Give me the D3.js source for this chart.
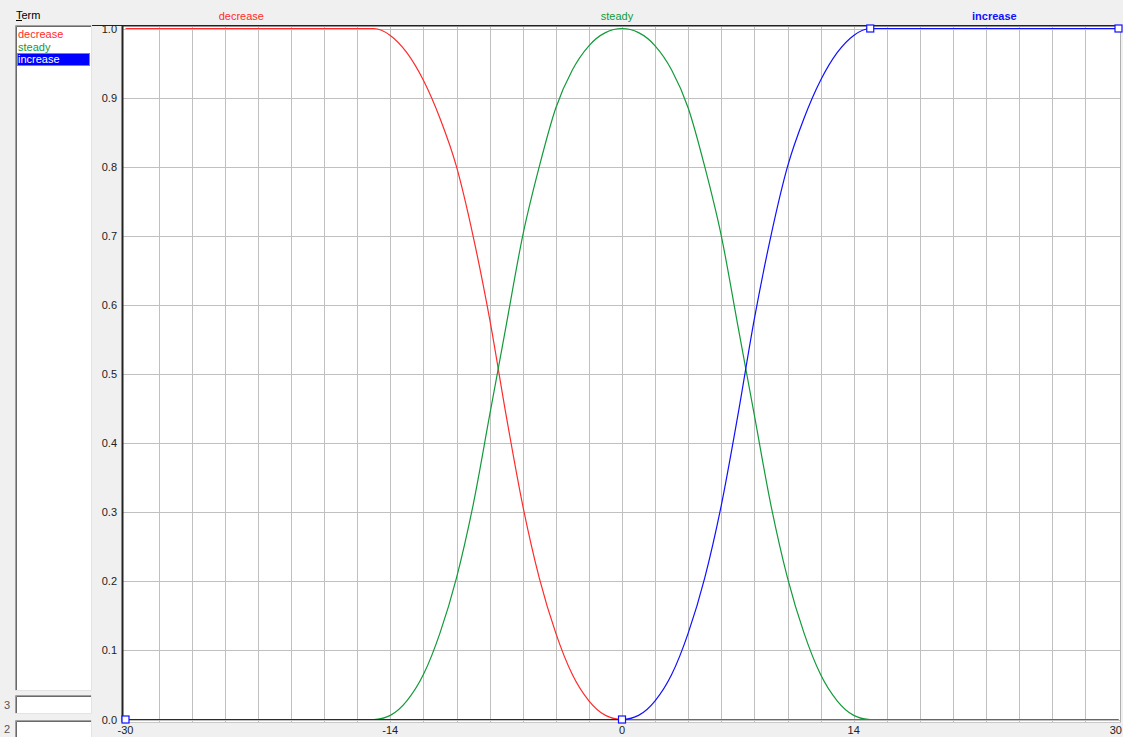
<!DOCTYPE html>
<head>
<meta charset="utf-8">
<script src="https://d3js.org/d3.v7.min.js"></script>
</head>
<style>
body { margin: 0; background: #f0f0f0; }
svg { display: block; font-family: "Liberation Sans", Arial, sans-serif; font-size: 11px; }
.grid line { stroke: #c0c0c0; stroke-width: 1px; shape-rendering: crispEdges; }
.mf { fill: none; stroke-width: 1.2px; }
</style>
<body>
<script>
// membership functions
var terms = ["decrease", "steady", "increase"];
var termColors = ["#ff2b2b", "#129a3a", "#1010ff"];
var xValues  = [-30, -15, -14, -13, -12, -11, -10, -9, -8, -7, -6, -5, -4, -3, -2, -1, 0,
                1, 2, 3, 4, 5, 6, 7, 8, 9, 10, 11, 12, 13, 14, 15, 30];
var decrease = [1, 1, 0.99, 0.965, 0.925, 0.87, 0.80, 0.70, 0.58, 0.44, 0.31, 0.205, 0.125, 0.065, 0.027, 0.006, 0,
                0, 0, 0, 0, 0, 0, 0, 0, 0, 0, 0, 0, 0, 0, 0, 0];
var steady   = [0, 0, 0.006, 0.027, 0.065, 0.125, 0.205, 0.31, 0.44, 0.57, 0.70, 0.80, 0.885, 0.94, 0.975, 0.994, 1,
                0.994, 0.975, 0.94, 0.885, 0.80, 0.70, 0.57, 0.44, 0.31, 0.205, 0.125, 0.065, 0.027, 0.006, 0, 0];
var increase = [0, 0, 0, 0, 0, 0, 0, 0, 0, 0, 0, 0, 0, 0, 0, 0, 0,
                0.006, 0.027, 0.065, 0.125, 0.205, 0.31, 0.44, 0.58, 0.70, 0.80, 0.87, 0.925, 0.965, 0.99, 1, 1];
var increasePoints = [[-30, 0], [0, 0], [15, 1], [30, 1]];
var termLabelX = [-23, -0.3, 22.5];
var xTicks = [-30, -14, 0, 14, 30];
var yTicks = [0, 0.1, 0.2, 0.3, 0.4, 0.5, 0.6, 0.7, 0.8, 0.9, 1.0];

var W = 1123, H = 737;
var svg = d3.select("body").append("svg").attr("width", W).attr("height", H);
svg.append("rect").attr("width", W).attr("height", H).attr("fill", "#f0f0f0");

var x = d3.scaleLinear().domain([-30, 30]).range([125.5, 1118.5]);
var y = d3.scaleLinear().domain([0, 1]).range([719.5, 28.5]);

// left term list
svg.append("text").attr("x", 16).attr("y", 19).text("Term");
svg.append("line").attr("x1", 16).attr("x2", 22).attr("y1", 20.5).attr("y2", 20.5).attr("stroke", "#000");
function sunken(x0, y0, w, h) {
  svg.append("rect").attr("x", x0).attr("y", y0).attr("width", w).attr("height", h).attr("fill", "#fff");
  svg.append("path").attr("d", "M" + (x0 + 0.5) + "," + (y0 + h) + "V" + (y0 + 0.5) + "H" + (x0 + w))
    .attr("fill", "none").attr("stroke", "#a0a0a0");
  svg.append("path").attr("d", "M" + (x0 + 1.5) + "," + (y0 + h - 1) + "V" + (y0 + 1.5) + "H" + (x0 + w - 1))
    .attr("fill", "none").attr("stroke", "#696969");
  svg.append("path").attr("d", "M" + x0 + "," + (y0 + h - 0.5) + "H" + (x0 + w - 0.5) + "V" + y0)
    .attr("fill", "none").attr("stroke", "#e3e3e3");
}
sunken(15, 25, 77, 666);
svg.append("rect").attr("x", 17).attr("y", 53).attr("width", 73).attr("height", 13).attr("fill", "#0000ff");
svg.append("rect").attr("x", 17.5).attr("y", 53.5).attr("width", 72).attr("height", 12)
  .attr("fill", "none").attr("stroke", "#ffff60").attr("stroke-dasharray", "1,1");
terms.forEach(function(t, i) {
  svg.append("text").attr("x", 18).attr("y", 38 + i * 12.5)
    .attr("fill", i == 2 ? "#fff" : termColors[i]).text(t);
});
sunken(15, 695, 77, 19);
sunken(15, 720, 77, 20);
svg.append("text").attr("x", 4).attr("y", 709).attr("fill", "#555").text("3");
svg.append("text").attr("x", 4).attr("y", 733).attr("fill", "#555").text("2");

// plot area
svg.append("rect").attr("x", 123).attr("y", 26).attr("width", 997).attr("height", 696).attr("fill", "#fff");

var grid = svg.append("g").attr("class", "grid");
grid.selectAll(".v").data(d3.range(-28, 30, 2)).enter().append("line")
  .attr("x1", function(d) { return Math.round(x(d)) + 0.5; })
  .attr("x2", function(d) { return Math.round(x(d)) + 0.5; })
  .attr("y1", 27).attr("y2", 722);
grid.selectAll(".h").data(yTicks).enter().append("line")
  .attr("x1", 123).attr("x2", 1120)
  .attr("y1", function(d) { return Math.round(y(d)) + 0.5; })
  .attr("y2", function(d) { return Math.round(y(d)) + 0.5; });

// frame
svg.append("line").attr("x1", 92).attr("x2", 1121).attr("y1", 25.5).attr("y2", 25.5).attr("stroke", "#222");
svg.append("line").attr("x1", 122).attr("x2", 1121).attr("y1", 26.5).attr("y2", 26.5).attr("stroke", "#909090");
svg.append("line").attr("x1", 122.5).attr("x2", 122.5).attr("y1", 25).attr("y2", 722).attr("stroke", "#222").attr("stroke-width", 2);
svg.append("line").attr("x1", 1120.5).attr("x2", 1120.5).attr("y1", 26).attr("y2", 722).attr("stroke", "#b0b0b0");
svg.append("line").attr("x1", 122).attr("x2", 1121).attr("y1", 722.5).attr("y2", 722.5).attr("stroke", "#c8c8c8");

// axis labels
svg.append("g").selectAll("text").data(yTicks).enter().append("text")
  .attr("x", 117).attr("y", function(d) { return y(d) + 4; })
  .attr("text-anchor", "end").attr("fill", "#222")
  .text(d3.format(".1f"));
svg.append("g").selectAll("text").data(xTicks).enter().append("text")
  .attr("x", function(d, i) { return i == xTicks.length - 1 ? 1122 : x(d); }).attr("y", 734)
  .attr("text-anchor", function(d, i) { return i == xTicks.length - 1 ? "end" : "middle"; })
  .attr("fill", "#222")
  .text(function(d) { return d; });

// term names above the plot
terms.forEach(function(t, i) {
  svg.append("text").attr("x", x(termLabelX[i])).attr("y", 20)
    .attr("text-anchor", "middle").attr("fill", termColors[i])
    .attr("font-weight", i == 2 ? "bold" : "normal").text(t);
});

// curves
var line = d3.line()
  .x(function(d) { return x(d[0]); })
  .y(function(d) { return y(d[1]); })
  .curve(d3.curveMonotoneX);
[decrease, steady, increase].forEach(function(vals, i) {
  svg.append("path")
    .datum(xValues.map(function(v, k) { return [v, vals[k]]; }))
    .attr("class", "mf")
    .attr("stroke", termColors[i])
    .attr("d", line);
});

// definition points of the selected term
svg.selectAll(".pt").data(increasePoints).enter().append("rect")
  .attr("x", function(d) { return x(d[0]) - 3.5; })
  .attr("y", function(d) { return y(d[1]) - 3.5; })
  .attr("width", 7).attr("height", 7)
  .attr("fill", "#fff").attr("stroke", termColors[2]).attr("stroke-width", 1.2);
</script>
</body>
